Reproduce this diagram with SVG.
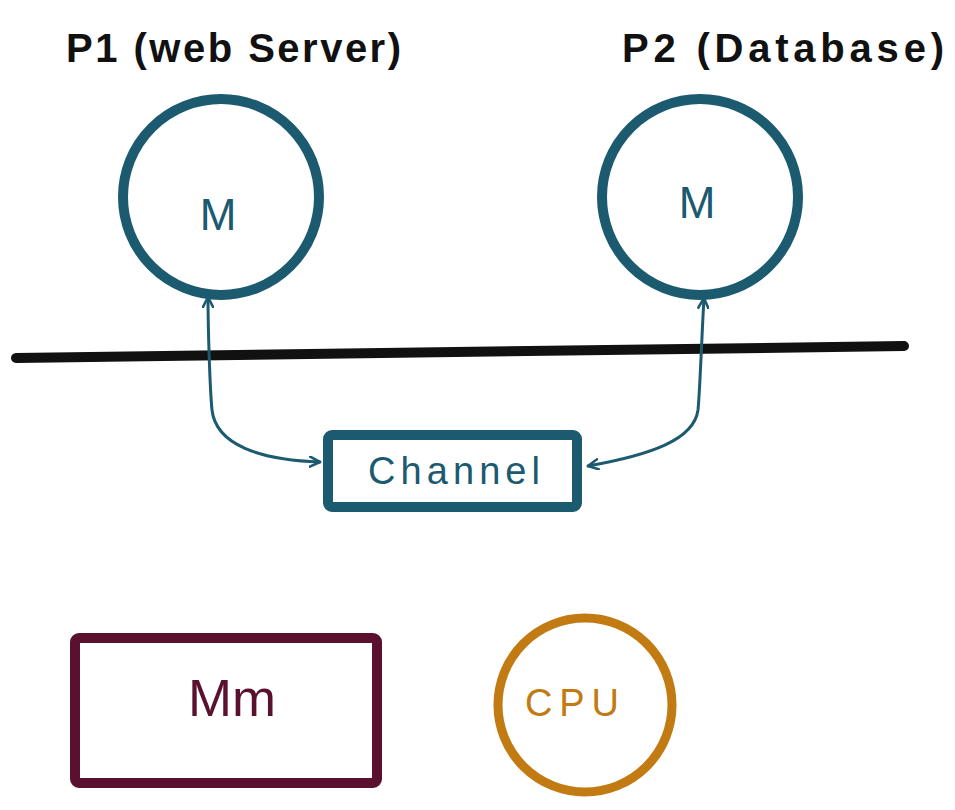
<svg xmlns="http://www.w3.org/2000/svg" width="955" height="810" viewBox="0 0 955 810">
  <style>
    .label { font-family: "Liberation Sans", "DejaVu Sans", sans-serif; }
    .proc { fill: none; stroke: #1c5a70; stroke-width: 10; }
    .teal { fill: #1c5a70; }
    .link { fill: none; stroke: #1c5a70; stroke-width: 3; stroke-linecap: round; }
  </style>
  <defs>
    <marker id="arrow" viewBox="0 0 12 12" refX="11" refY="6" markerWidth="12" markerHeight="12" markerUnits="userSpaceOnUse" orient="auto-start-reverse">
      <path d="M1,1 L11,6 L1,11" fill="none" stroke="#1c5a70" stroke-width="2.6" stroke-linecap="round" stroke-linejoin="round"/>
    </marker>
  </defs>
  <rect width="955" height="810" fill="#ffffff"/>

  <!-- process titles -->
  <text class="label" x="66" y="62" font-size="40" font-weight="bold" fill="#111" textLength="335" lengthAdjust="spacing">P1 (web Server)</text>
  <text class="label" x="622" y="62" font-size="40" font-weight="bold" fill="#111" textLength="322" lengthAdjust="spacing">P2 (Database)</text>

  <!-- user / kernel boundary -->
  <line x1="16" y1="358" x2="904" y2="346" stroke="#111" stroke-width="10" stroke-linecap="round"/>

  <g id="p1">
    <circle class="proc" cx="221" cy="197" r="98"/>
    <text class="label teal" x="218" y="230" font-size="44" text-anchor="middle">M</text>
  </g>

  <g id="p2">
    <circle class="proc" cx="700" cy="197" r="98"/>
    <text class="label teal" x="697" y="218" font-size="44" text-anchor="middle">M</text>
  </g>

  <g id="channel">
    <rect class="proc" x="328" y="435" width="249" height="72" rx="4"/>
    <text class="label teal" x="368" y="484" font-size="38" textLength="172" lengthAdjust="spacing">Channel</text>
  </g>

  <g id="connectors">
    <path class="link" d="M208,297 C208,330 210,390 212,410 C216,445 260,460 320,462" marker-start="url(#arrow)" marker-end="url(#arrow)"/>
    <path class="link" d="M704,298 C702,330 700,390 698,410 C694,440 650,455 588,466" marker-start="url(#arrow)" marker-end="url(#arrow)"/>
  </g>

  <g id="mm">
    <rect x="75" y="638" width="302" height="145" rx="4" fill="none" stroke="#5a1130" stroke-width="10"/>
    <text class="label" x="188" y="716" font-size="52" fill="#5a1130" textLength="88" lengthAdjust="spacingAndGlyphs">Mm</text>
  </g>

  <g id="cpu">
    <circle cx="585" cy="705" r="87" fill="none" stroke="#c27a12" stroke-width="9"/>
    <text class="label" x="525" y="716" font-size="38" fill="#c27a12" textLength="94" lengthAdjust="spacing">CPU</text>
  </g>
</svg>
